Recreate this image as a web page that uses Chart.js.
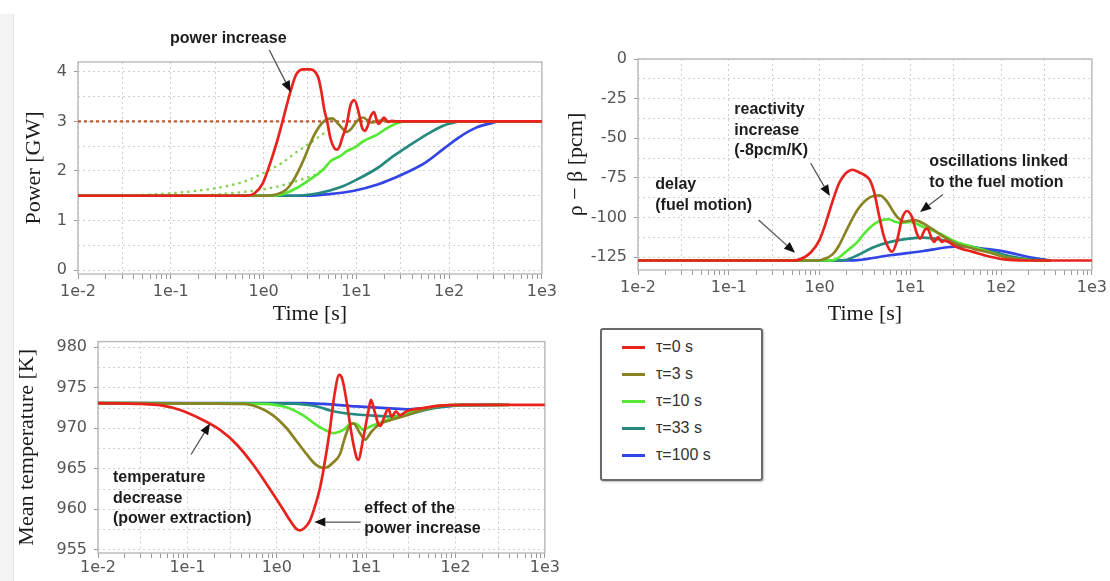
<!DOCTYPE html>
<html>
<head>
<meta charset="utf-8">
<script src="https://cdn.jsdelivr.net/npm/chart.js@4.4.1/dist/chart.umd.min.js"></script>
<style>
  html, body { margin: 0; padding: 0; background: #fff; }
  body { width: 1110px; height: 581px; position: relative; overflow: hidden; }
  .strip { position: absolute; left: 0; top: 14px; bottom: 0; width: 13px; background: #f3f3f3; border-right: 1px solid #e3e3e3; }
  canvas { position: absolute; }
  #legend { position: absolute; left: 600px; top: 328px; width: 159px; height: 149px;
            border: 2px solid #6a6a6a; border-radius: 3px; box-shadow: 1px 1px 2px rgba(0,0,0,0.25);
            font: 16px "Liberation Sans", Arial, sans-serif; color: #333; }
  .item { position: absolute; left: 0; right: 0; height: 20px; line-height: 20px; }
  .swatch { position: absolute; left: 20px; top: 9px; width: 23px; height: 3px; }
  .item span { position: absolute; left: 54px; white-space: nowrap; }
</style>
</head>
<body>
<div class="strip"></div>
<canvas id="power" width="560" height="325" style="left:0;top:0"></canvas>
<canvas id="react" width="550" height="325" style="left:560px;top:0"></canvas>
<canvas id="temp" width="560" height="256" style="left:0;top:325px"></canvas>
<div id="legend"></div>
<script>
// time axis, log decades
const decades = [0.01, 0.1, 1, 10, 100, 1000];
const decadeLabels = ['1e-2', '1e-1', '1e0', '1e1', '1e2', '1e3'];

const seriesLabels = ['τ=0 s', 'τ=3 s', 'τ=10 s', 'τ=33 s', 'τ=100 s'];
const seriesColors = ['#e8231e', '#8a8324', '#55e835', '#24897e', '#3344e6'];

// power [GW] vs time [s]
const powerTicks = [0, 1, 2, 3, 4];
const powerTau0 = [[0.01,1.5],[0.65,1.5],[0.8,1.55],[0.98,1.75],[1.2,2.2],[1.4,2.6],[1.55,2.9],[1.95,3.6],[2.25,3.95],[2.7,4.05],[3.2,4.05],[3.6,4.0],[3.9,3.88],[4.2,3.6],[4.5,3.25],[4.85,3.0],[5.27,2.65],[5.8,2.46],[6.2,2.43],[6.6,2.5],[7.0,2.65],[7.9,2.95],[8.6,3.31],[9.5,3.43],[10.6,3.18],[11.5,2.88],[12.4,2.81],[13.2,2.9],[14.1,3.08],[15.5,3.19],[16.4,3.05],[17.3,2.95],[18.5,3.0],[19.8,3.08],[21,3.03],[22,2.99],[24,3.01],[27,3.0],[1000,3.0]];
const powerTau3 = [[0.01,1.5],[1.05,1.5],[1.4,1.53],[1.75,1.62],[2.05,1.78],[2.35,1.98],[2.74,2.25],[3.1,2.5],[3.5,2.72],[4.0,2.9],[4.6,3.02],[5.5,3.06],[6.2,2.98],[6.9,2.88],[7.9,2.79],[8.8,2.85],[9.8,2.97],[10.6,3.04],[11.9,3.08],[13.0,3.03],[14.6,2.98],[16.5,3.0],[19,3.02],[22,3.0],[1000,3.0]];
const powerTau10 = [[0.01,1.5],[1.2,1.5],[1.6,1.53],[2.2,1.64],[3.0,1.8],[3.9,1.95],[4.5,2.05],[5.3,2.2],[6.7,2.3],[7.9,2.4],[9.5,2.47],[11.9,2.6],[16.6,2.73],[21.2,2.86],[27,2.96],[34,3.0],[1000,3.0]];
const powerTau33 = [[0.01,1.5],[2.2,1.5],[3.9,1.55],[6.7,1.67],[9.5,1.8],[16.6,2.05],[25,2.3],[37.6,2.52],[56.6,2.73],[85,2.91],[109,2.97],[130,3.0],[1000,3.0]];
const powerTau100 = [[0.01,1.5],[3,1.5],[5,1.53],[9.5,1.6],[16.6,1.72],[25,1.85],[37.6,2.0],[56.6,2.18],[85,2.43],[128,2.68],[193,2.87],[291,2.97],[340,3.0],[1000,3.0]];
const powerDemand3 = [[0.03,1.5],[0.1,1.55],[0.3,1.65],[0.6,1.78],[1.0,1.96],[1.6,2.17],[2.3,2.39],[3.0,2.53],[4.0,2.7],[5.0,2.82]];
const powerDemand10 = [[0.2,1.5],[0.5,1.56],[1.0,1.63],[1.6,1.71],[2.3,1.8],[3.0,1.87],[3.7,1.93]];
const powerTarget = [[0.01,3.0],[1000,3.0]];

// rho - beta [pcm] vs time [s]
const reactTicks = [-125, -100, -75, -50, -25, 0];
const reactTau0 = [[0.01,-127],[0.5,-127],[0.61,-126.3],[0.8,-122],[1.0,-114],[1.13,-106],[1.3,-95],[1.48,-85],[1.65,-78],[1.85,-73.5],[2.05,-71],[2.3,-69.8],[2.74,-71.5],[3.2,-73.5],[3.6,-76.5],[4.0,-84],[4.5,-98],[5.12,-112],[5.8,-119.5],[6.3,-121.5],[7.15,-114.3],[8.1,-100.6],[9.18,-95.8],[10.4,-99.5],[11.8,-110],[12.8,-113.2],[14.5,-107.5],[15.4,-106.9],[17.2,-113.2],[18.2,-115.3],[20.3,-112.2],[22.1,-115.3],[24,-114.5],[32.2,-118.5],[49,-121.6],[74,-124.5],[113,-126.5],[180,-127],[1000,-127]];
const reactTau3 = [[0.01,-127],[0.9,-127],[1.13,-126],[1.4,-123],[1.62,-118],[2.1,-105],[2.62,-95],[3.23,-89],[4.0,-86.2],[4.6,-86],[5.56,-90],[6.3,-95],[7.15,-99.5],[8.45,-102.5],[9.98,-101.8],[11.2,-101.6],[13.9,-103.7],[19.4,-109],[23.1,-112],[32.2,-116.4],[49,-119.5],[74,-122],[113,-125],[200,-126.7],[350,-127]];
const reactTau10 = [[0.01,-127],[1.3,-127],[1.6,-125.5],[2.0,-121],[2.62,-115.3],[3.0,-111],[3.66,-105.9],[4.4,-102.5],[5.12,-101.2],[5.8,-101],[6.8,-102.6],[7.8,-103.3],[10,-102.7],[13.9,-105.9],[21,-110],[32,-115.3],[49,-118.5],[74,-121.6],[113,-125],[200,-126.7],[350,-127]];
const reactTau33 = [[0.01,-127],[1.6,-127],[2.0,-126.5],[2.62,-123.7],[4.0,-118.5],[6.04,-115.3],[9.2,-113.4],[13.9,-112.6],[21,-113.8],[32,-116.4],[49,-118.5],[74,-121],[113,-123.7],[200,-126.3],[350,-127]];
const reactTau100 = [[0.01,-127],[2.0,-127],[2.62,-126.8],[6.0,-123.7],[13.9,-121],[27.3,-118.5],[37.6,-118.1],[62.6,-119.5],[113,-121.6],[200,-124.8],[350,-127]];

// mean temperature [K] vs time [s]
const tempTicks = [955, 960, 965, 970, 975, 980];
const tempTau0 = [[0.01,973.1],[0.03,973.0],[0.049,972.85],[0.083,972.25],[0.138,971.2],[0.232,969.8],[0.356,968.0],[0.546,965.5],[0.771,963.1],[1.086,960.6],[1.41,958.6],[1.65,957.6],[1.82,957.4],[2.05,957.7],[2.35,958.6],[2.7,960.5],[3.04,962.6],[3.31,964.7],[3.95,970.0],[4.4,974.0],[5.0,976.6],[5.4,976.1],[6.05,973.3],[6.89,969.2],[7.83,966.35],[8.17,966.1],[9.29,968.8],[10.55,972.0],[11.3,973.5],[12.5,972.0],[13.7,970.5],[14.5,970.3],[16.2,971.6],[17.7,972.4],[19.3,971.4],[21.5,972.1],[23.9,971.6],[28.4,972.1],[43.5,972.5],[67,972.8],[120,972.9],[1000,972.9]];
const tempTau3 = [[0.01,973.1],[0.42,973.0],[0.65,972.5],[0.91,971.6],[1.29,970.0],[1.67,968.4],[2.16,966.8],[2.68,965.6],[3.31,965.1],[3.61,965.15],[4.3,965.8],[5.09,966.8],[5.7,968.6],[6.3,970.0],[7.18,970.6],[8.53,969.4],[9.7,968.6],[11.5,969.6],[13.7,970.4],[18.5,971.0],[28.4,971.6],[43.5,972.3],[67,972.75],[120,972.9],[400,972.9]];
const tempTau10 = [[0.01,973.1],[0.7,973.0],[1.0,972.85],[1.29,972.6],[1.98,971.6],[2.79,970.4],[3.61,969.7],[4.28,969.4],[5.55,969.8],[6.89,970.6],[7.9,970.5],[9.29,969.8],[11.0,970.2],[13.7,970.6],[18.5,971.2],[28.4,971.8],[43.5,972.4],[67,972.8],[120,972.9],[400,972.9]];
const tempTau33 = [[0.01,973.1],[1.5,973.05],[2.16,972.9],[3.04,972.6],[3.95,972.2],[5.09,971.95],[7.83,971.7],[12.1,971.55],[18.5,971.45],[28.4,971.65],[43.5,972.2],[67,972.6],[120,972.85],[350,972.9]];
const tempTau100 = [[0.01,973.1],[2.0,973.1],[3.3,973.0],[7.8,972.7],[18.5,972.45],[30,972.35],[45,972.45],[67,972.65],[120,972.85],[300,972.9]];

// tick marks on the time axis: 1..9 per decade, grid lines at 1 and 3
const timeMarks = [];
decades.forEach((d, i) => {
  for (let m = 1; m <= 9; m++) {
    if (i === decades.length - 1 && m > 1) break;
    timeMarks.push({ value: d * m, text: m === 1 ? decadeLabels[i] : '', grid: m === 1 || m === 3 });
  }
});

// value axis grid: labelled ticks plus a dotted line halfway between them
function withHalves(ticks) {
  const out = [];
  ticks.forEach((v, i) => {
    out.push(v);
    if (i < ticks.length - 1) out.push((v + ticks[i + 1]) / 2);
  });
  return out;
}

const tickFont = { family: 'DejaVu Sans', size: 16 };
const titleFont = { family: 'Liberation Serif', size: 22, lineHeight: 1 };

function timeAxis(height, labelPad, showTitle) {
  return {
    type: 'logarithmic', min: 0.01, max: 1000,
    afterBuildTicks: s => { s.ticks = timeMarks.map(t => Object.assign({}, t)); },
    afterFit: s => { s.height = height; },
    ticks: { autoSkip: false, maxRotation: 0, padding: labelPad, color: '#555', font: tickFont,
             callback: (v, i, t) => t[i].text },
    grid: { color: c => (c.tick && c.tick.grid) ? '#cfcfcf' : 'rgba(0,0,0,0)',
            tickColor: '#9a9a9a', tickLength: 5, borderDash: [2, 3] },
    border: { display: false, dash: [2, 3] },
    title: { display: showTitle, text: 'Time [s]', color: '#1a1a1a', font: titleFont, padding: { top: 0, bottom: 0 } }
  };
}

function valueAxis(o) {
  const labelled = o.ticks;
  return {
    min: o.min, max: o.max,
    afterBuildTicks: s => {
      s.ticks = withHalves(labelled).map(v => ({ value: v, text: labelled.includes(v) ? String(v) : '' }));
    },
    afterFit: s => { s.width = o.width; },
    ticks: { autoSkip: false, padding: 7, color: '#555', font: tickFont, callback: (v, i, t) => t[i].text },
    grid: { color: '#d0d0d0', tickLength: 4, borderDash: [2, 3],
            tickColor: c => (c.tick && c.tick.text) ? '#999' : 'rgba(0,0,0,0)' },
    border: { display: false, dash: [2, 3] },
    title: { display: true, text: o.title, color: '#1a1a1a', font: titleFont, padding: { top: o.titlePad, bottom: 0 } }
  };
}

// light grey box round the plotting area
const framePlugin = {
  id: 'frame',
  beforeDatasetsDraw(chart) {
    const { ctx, chartArea: a } = chart;
    ctx.save();
    ctx.strokeStyle = '#bdbdbd';
    ctx.lineWidth = 1.5;
    ctx.strokeRect(a.left, a.top, a.width, a.height);
    ctx.restore();
  }
};

// bold call-outs with arrows, placed in data coordinates
function notesPlugin(notes) {
  return {
    id: 'notes',
    afterDraw(chart) {
      const { ctx } = chart;
      const x = chart.scales.x, y = chart.scales.y;
      const px = p => [x.getPixelForValue(p[0]), y.getPixelForValue(p[1])];
      ctx.save();
      ctx.font = 'bold 16px "Liberation Sans", Arial, sans-serif';
      ctx.fillStyle = '#1c1c1c';
      ctx.textBaseline = 'middle';
      notes.texts.forEach(n => {
        const [tx, ty] = px(n.at);
        ctx.textAlign = n.align || 'left';
        n.lines.forEach((s, i) => ctx.fillText(s, tx, ty + i * 20.5));
      });
      notes.arrows.forEach(a => {
        const [x0, y0] = px(a.from), [x1, y1] = px(a.to);
        const ang = Math.atan2(y1 - y0, x1 - x0), c = Math.cos(ang), s = Math.sin(ang);
        const len = 11, half = 4.5;
        ctx.strokeStyle = '#555';
        ctx.lineWidth = 1.3;
        ctx.beginPath();
        ctx.moveTo(x0, y0);
        ctx.lineTo(x1 - len * c, y1 - len * s);
        ctx.stroke();
        ctx.fillStyle = '#111';
        ctx.beginPath();
        ctx.moveTo(x1, y1);
        ctx.lineTo(x1 - len * c + half * s, y1 - len * s - half * c);
        ctx.lineTo(x1 - len * c - half * s, y1 - len * s + half * c);
        ctx.closePath();
        ctx.fill();
      });
      ctx.restore();
    }
  };
}

function lineSet(label, data, color, extra) {
  return Object.assign({ label, data, borderColor: color, borderWidth: 2.7, pointRadius: 0,
                         fill: false, cubicInterpolationMode: 'monotone' }, extra || {});
}

function baseOptions(padding, scales) {
  return {
    responsive: false, animation: false, events: [],
    layout: { padding },
    plugins: { legend: { display: false }, tooltip: { enabled: false } },
    scales
  };
}

new Chart(document.getElementById('power'), {
  type: 'line',
  data: {
    datasets: [
      lineSet(seriesLabels[0], powerTau0, seriesColors[0]),
      lineSet(seriesLabels[1], powerTau3, seriesColors[1]),
      lineSet(seriesLabels[2], powerTau10, seriesColors[2]),
      lineSet(seriesLabels[3], powerTau33, seriesColors[3]),
      lineSet(seriesLabels[4], powerTau100, seriesColors[4]),
      lineSet('demand τ=3 s', powerDemand3, '#86d24e', { borderDash: [2.5, 4], borderWidth: 2.3 }),
      lineSet('demand τ=10 s', powerDemand10, '#86d24e', { borderDash: [2.5, 4], borderWidth: 2.3 }),
      lineSet('target', powerTarget, '#c45a30', { borderDash: [3, 3], borderWidth: 2.3 })
    ]
  },
  options: baseOptions({ top: 62, right: 13, left: 0, bottom: 0 }, {
    x: timeAxis(51, 3, true),
    y: valueAxis({ min: -0.08, max: 4.2, ticks: powerTicks, width: 78, title: 'Power [GW]', titlePad: 23 })
  }),
  plugins: [framePlugin, notesPlugin({
    texts: [{ at: [0.417, 4.665], lines: ['power increase'], align: 'center' }],
    arrows: [{ from: [1.153, 4.442], to: [1.96, 3.595] }]
  })]
});

new Chart(document.getElementById('react'), {
  type: 'line',
  data: {
    datasets: [
      lineSet(seriesLabels[0], reactTau0, seriesColors[0]),
      lineSet(seriesLabels[1], reactTau3, seriesColors[1]),
      lineSet(seriesLabels[2], reactTau10, seriesColors[2]),
      lineSet(seriesLabels[3], reactTau33, seriesColors[3]),
      lineSet(seriesLabels[4], reactTau100, seriesColors[4])
    ]
  },
  options: baseOptions({ top: 59, right: 13, left: 0, bottom: 0 }, {
    x: timeAxis(55, 3, true),
    y: valueAxis({ min: -133, max: 0, ticks: reactTicks, width: 78, title: 'ρ − β [pcm]', titlePad: 5 })
  }),
  plugins: [framePlugin, notesPlugin({
    texts: [
      { at: [0.115, -32.1], lines: ['reactivity', 'increase', '(-8pcm/K)'] },
      { at: [0.0155, -79.4], lines: ['delay', '(fuel motion)'] },
      { at: [16.2, -64.7], lines: ['oscillations linked', 'to the fuel motion'] }
    ],
    arrows: [
      { from: [0.798, -65.7], to: [1.298, -86.4] },
      { from: [0.213, -101.5], to: [0.537, -122.1] },
      { from: [22.9, -85.4], to: [12.8, -96.4] }
    ]
  })]
});

new Chart(document.getElementById('temp'), {
  type: 'line',
  data: {
    datasets: [
      lineSet(seriesLabels[0], tempTau0, seriesColors[0]),
      lineSet(seriesLabels[1], tempTau3, seriesColors[1]),
      lineSet(seriesLabels[2], tempTau10, seriesColors[2]),
      lineSet(seriesLabels[3], tempTau33, seriesColors[3]),
      lineSet(seriesLabels[4], tempTau100, seriesColors[4])
    ]
  },
  options: baseOptions({ top: 14, right: 15, left: 0, bottom: 0 }, {
    x: timeAxis(28, 0, false),
    y: valueAxis({ min: 954.6, max: 980.7, ticks: tempTicks, width: 98, title: 'Mean temperature [K]', titlePad: 16 })
  }),
  plugins: [framePlugin, notesPlugin({
    texts: [
      { at: [0.0147, 963.9], lines: ['temperature', 'decrease', '(power extraction)'] },
      { at: [9.53, 960.14], lines: ['effect of the', 'power increase'] }
    ],
    arrows: [
      { from: [0.11, 966.76], to: [0.179, 970.6] },
      { from: [8.68, 958.42], to: [2.63, 958.42] }
    ]
  })]
});

// shared legend box
const legend = document.getElementById('legend');
seriesLabels.forEach((label, i) => {
  const item = document.createElement('div');
  item.className = 'item';
  item.style.top = (7 + i * 27) + 'px';
  const sw = document.createElement('div');
  sw.className = 'swatch';
  sw.style.background = seriesColors[i];
  const tx = document.createElement('span');
  tx.textContent = label;
  item.appendChild(sw);
  item.appendChild(tx);
  legend.appendChild(item);
});
</script>
</body>
</html>
